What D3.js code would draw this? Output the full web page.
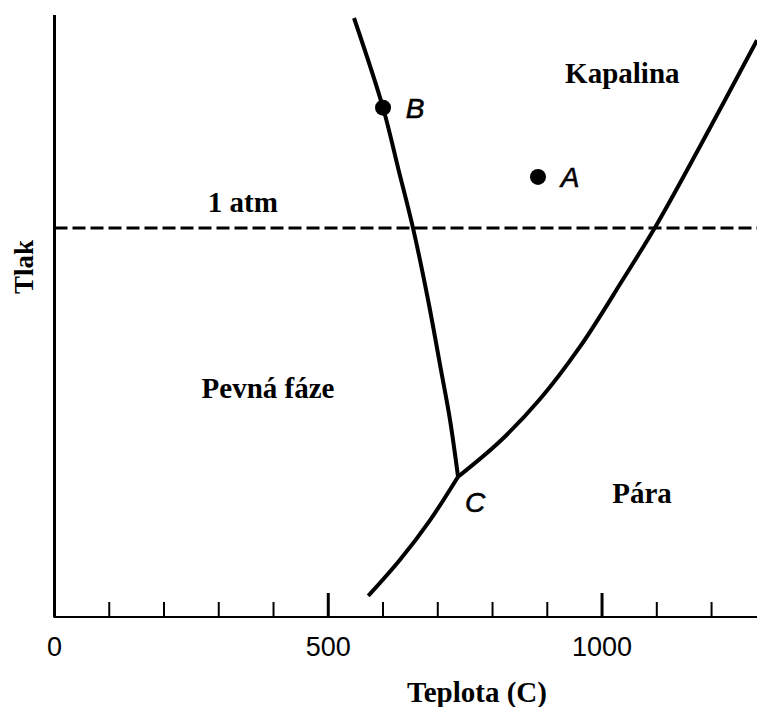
<!DOCTYPE html>
<html>
  <head>
    <meta charset="utf-8">
    <script src="https://d3js.org/d3.v7.min.js"></script>
  </head>
  <style>
  body{ margin:0; background:#fff; }
  .serif{ font-family:"Liberation Serif","Times New Roman",serif; font-weight:bold; }
  .sans{ font-family:"Liberation Sans",Arial,sans-serif; }
  </style>
  <body>
    <svg id="phase" width="757" height="707"></svg>

    <script>
    // teplota (C) / tlak (relativni jednotky 0-100)
    const melting = [[547,99.5],[600,84.6],[628.3,74.3],[654.8,64.6],[682.2,52.7],[705.9,41.0],[722.4,32.7],[737,23.3]];
    const vapor = [[737,23.3],[813.7,29.2],[886.8,36.2],[959.8,44.9],[1038.4,56.1],[1100.5,65.3],[1179,78.2],[1283,95.8]];
    const sublimation = [[573,3.5],[631,9.5],[686,16.1],[737,23.3]];
    const points = [{name:"A", t:883, p:73.1}, {name:"B", t:600, p:84.6}];
    const triple = {name:"C", t:737, p:23.3};
    const atm = 64.6;
    const tickValues = d3.range(100, 1300, 100);
    const tickLabels = [0, 500, 1000];
    const regions = [
      {text:"Kapalina", t:1037, p:90.4},
      {text:"Pevná fáze", t:390, p:38.0},
      {text:"Pára", t:1073, p:20.6},
      {text:"1 atm", t:344, p:68.9}
    ];

    const svg = d3.select("#phase");
    const x = d3.scaleLinear().domain([0, 1283]).range([54.5, 757]);
    const y = d3.scaleLinear().domain([0, 100]).range([617, 15]);

    // ADD AXES
    svg.append("line")
       .attr("x1", x(0)).attr("x2", x(0))
       .attr("y1", y(100)).attr("y2", y(0))
       .attr("stroke", "black").attr("stroke-width", 3);
    svg.append("line")
       .attr("x1", x(0) - 1).attr("x2", 757)
       .attr("y1", y(0)).attr("y2", y(0))
       .attr("stroke", "black").attr("stroke-width", 2);

    svg.selectAll("line.tick").data(tickValues)
       .enter().append("line")
       .attr("class", "tick")
       .attr("x1", d => x(d)).attr("x2", d => x(d))
       .attr("y1", y(0))
       .attr("y2", d => d % 500 === 0 ? y(0) - 24 : y(0) - 15)
       .attr("stroke", "black")
       .attr("stroke-width", d => d % 500 === 0 ? 3 : 2);

    svg.selectAll("text.ticklabel").data(tickLabels)
       .enter().append("text")
       .attr("class", "ticklabel sans")
       .attr("x", d => x(d)).attr("y", 656)
       .attr("text-anchor", "middle")
       .attr("font-size", 27)
       .text(d => d);

    svg.append("text")
       .attr("class", "serif")
       .attr("x", 477).attr("y", 702)
       .attr("text-anchor", "middle")
       .attr("font-size", 29)
       .text("Teplota (C)");

    svg.append("text")
       .attr("class", "serif")
       .attr("transform", "translate(33,267) rotate(-90)")
       .attr("text-anchor", "middle")
       .attr("font-size", 27)
       .text("Tlak");

    // 1 atm
    svg.append("line")
       .attr("x1", x(0)).attr("x2", 757)
       .attr("y1", y(atm)).attr("y2", y(atm))
       .attr("stroke", "black").attr("stroke-width", 3)
       .attr("stroke-dasharray", "13,5");

    // ADD CURVES
    const line = d3.line()
       .x(d => x(d[0])).y(d => y(d[1]))
       .curve(d3.curveCatmullRom);
    svg.selectAll("path.curve").data([melting, vapor, sublimation])
       .enter().append("path")
       .attr("class", "curve")
       .attr("d", line)
       .attr("fill", "none")
       .attr("stroke", "black")
       .attr("stroke-width", 4);

    svg.selectAll("circle.point").data(points)
       .enter().append("circle")
       .attr("class", "point")
       .attr("cx", d => x(d.t)).attr("cy", d => y(d.p))
       .attr("r", 8)
       .attr("fill", "black");

    svg.selectAll("text.pname").data(points.concat([triple]))
       .enter().append("text")
       .attr("class", "pname sans")
       .attr("x", d => d.name === "C" ? x(d.t) + 17 : x(d.t) + 32)
       .attr("y", d => d.name === "C" ? y(d.p) + 35 : y(d.p) + 10)
       .attr("text-anchor", "middle")
       .attr("font-size", 28)
       .attr("font-style", "italic")
       .attr("stroke", "black")
       .attr("stroke-width", 0.6)
       .text(d => d.name);

    svg.selectAll("text.region").data(regions)
       .enter().append("text")
       .attr("class", "region serif")
       .attr("x", d => x(d.t)).attr("y", d => y(d.p) + 10)
       .attr("text-anchor", "middle")
       .attr("font-size", 29)
       .text(d => d.text);
    </script>
  </body>
</html>
